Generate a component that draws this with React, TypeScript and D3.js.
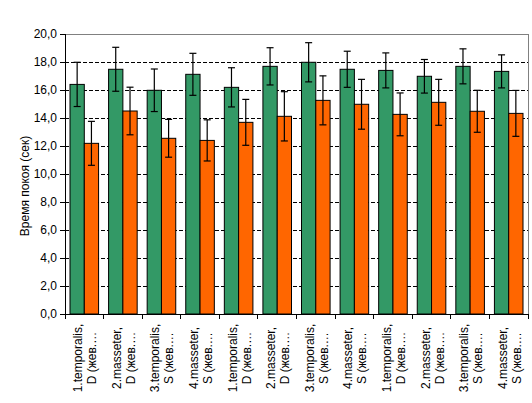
import React from 'react';
import * as d3 from 'd3';

// категории: два ряда подписи на каждую группу
const labelLine1 = [
  '1.temporalis,', '2.masseter,', '3.temporalis,', '4.masseter,',
  '1.temporalis,', '2.masseter,', '3.temporalis,', '4.masseter,',
  '1.temporalis,', '2.masseter,', '3.temporalis,', '4.masseter,',
];
const labelLine2 = [
  'D (жев.…', 'D (жев.…', 'S (жев.…', 'S (жев.…',
  'D (жев.…', 'D (жев.…', 'S (жев.…', 'S (жев.…',
  'D (жев.…', 'D (жев.…', 'S (жев.…', 'S (жев.…',
];

const greenValues = [16.4, 17.48, 15.98, 17.12, 16.19, 17.69, 17.98, 17.48, 17.4, 16.98, 17.69, 17.33];
const greenErr = [1.58, 1.57, 1.52, 1.5, 1.4, 1.33, 1.4, 1.29, 1.25, 1.2, 1.25, 1.18];
const orangeValues = [12.19, 14.5, 12.55, 12.4, 13.69, 14.12, 15.26, 14.98, 14.26, 15.12, 14.48, 14.33];
const orangeErr = [1.57, 1.7, 1.35, 1.47, 1.64, 1.76, 1.75, 1.78, 1.53, 1.64, 1.5, 1.64];

const yTicks = [0, 2, 4, 6, 8, 10, 12, 14, 16, 18, 20];
const series = ['g', 'o'];
const colors = { g: '#339966', o: '#FF6600' };

const W = 532;
const H = 403;
const margin = { top: 34, right: 4, bottom: 89, left: 65 };
const font = 'Arial, "Liberation Sans", sans-serif';

export default function App() {
  const idx = d3.range(greenValues.length).map(String);
  const x0 = d3.scaleBand().domain(idx).range([margin.left, W - margin.right]).padding(0);
  const x1 = d3.scaleBand().domain(series).range([0, x0.bandwidth()]).paddingInner(0).paddingOuter(0.35);
  const y = d3.scaleLinear().domain([0, 20]).range([H - margin.bottom, margin.top]);
  const fmt = (v: number) => v.toFixed(1).replace('.', ',');

  const rows = idx.map((k, i) => ({
    k,
    bars: [
      { s: 'g', v: greenValues[i], e: greenErr[i] },
      { s: 'o', v: orangeValues[i], e: orangeErr[i] },
    ],
  }));

  const left = margin.left;
  const right = W - margin.right;
  const bottom = y(0);
  const top = y(20);

  return (
    <svg width={W} height={H} style={{ position: 'absolute', left: 0, top: 0, background: '#fff' }}
      fontFamily={font}>
      {/* сетка */}
      {yTicks.filter(t => t > 0 && t < 20).map(t => (
        <line key={t} x1={left} x2={right} y1={y(t)} y2={y(t)} stroke="#000" strokeWidth={1}
          strokeDasharray="4,2" shapeRendering="crispEdges" />
      ))}
      <line x1={left} x2={right} y1={top} y2={top} stroke="#808080" shapeRendering="crispEdges" />
      <line x1={right} x2={right} y1={top} y2={bottom} stroke="#808080" shapeRendering="crispEdges" />

      {rows.map(r => (
        <g key={r.k} transform={`translate(${x0(r.k)},0)`}>
          {r.bars.map(b => (
            <rect key={b.s} x={x1(b.s)} y={y(b.v)} width={x1.bandwidth()} height={bottom - y(b.v)}
              fill={colors[b.s]} stroke="#000" strokeWidth={1} />
          ))}
          {r.bars.map(b => {
            const cx = (x1(b.s) as number) + x1.bandwidth() / 2;
            return (
              <g key={'e' + b.s} stroke="#000" strokeWidth={1.2}>
                <line x1={cx} x2={cx} y1={y(b.v + b.e)} y2={y(b.v - b.e)} />
                <line x1={cx - 3.5} x2={cx + 3.5} y1={y(b.v + b.e)} y2={y(b.v + b.e)} />
                <line x1={cx - 3.5} x2={cx + 3.5} y1={y(b.v - b.e)} y2={y(b.v - b.e)} />
              </g>
            );
          })}
        </g>
      ))}

      {/* оси */}
      <line x1={left} x2={left} y1={top} y2={bottom} stroke="#000" shapeRendering="crispEdges" />
      <line x1={left} x2={right} y1={bottom} y2={bottom} stroke="#000" shapeRendering="crispEdges" />
      {yTicks.map(t => (
        <g key={t}>
          <line x1={left - 5} x2={left} y1={y(t)} y2={y(t)} stroke="#000" shapeRendering="crispEdges" />
          <text x={left - 8} y={y(t)} dy="0.35em" textAnchor="end" fontSize={12} fill="#000">{fmt(t)}</text>
        </g>
      ))}
      {idx.concat([String(idx.length)]).map((k, i) => {
        const xx = i < idx.length ? (x0(k) as number) : right;
        return <line key={'t' + k} x1={xx} x2={xx} y1={bottom} y2={bottom + 5} stroke="#000" shapeRendering="crispEdges" />;
      })}
      {idx.map((k, i) => {
        const cx = (x0(k) as number) + x0.bandwidth() / 2;
        return (
          <text key={'l' + k} transform={`translate(${cx},358) rotate(-90)`} fontSize={12} fill="#000" textAnchor="middle">
            <tspan x={0} y={-6} dominantBaseline="central">{labelLine1[i]}</tspan>
            <tspan x={0} y={8} dominantBaseline="central">{labelLine2[i]}</tspan>
          </text>
        );
      })}
      <text transform={`translate(25,186) rotate(-90)`} textAnchor="middle" dominantBaseline="central"
        fontSize={12} fill="#000">Время покоя (сек)</text>
    </svg>
  );
}
